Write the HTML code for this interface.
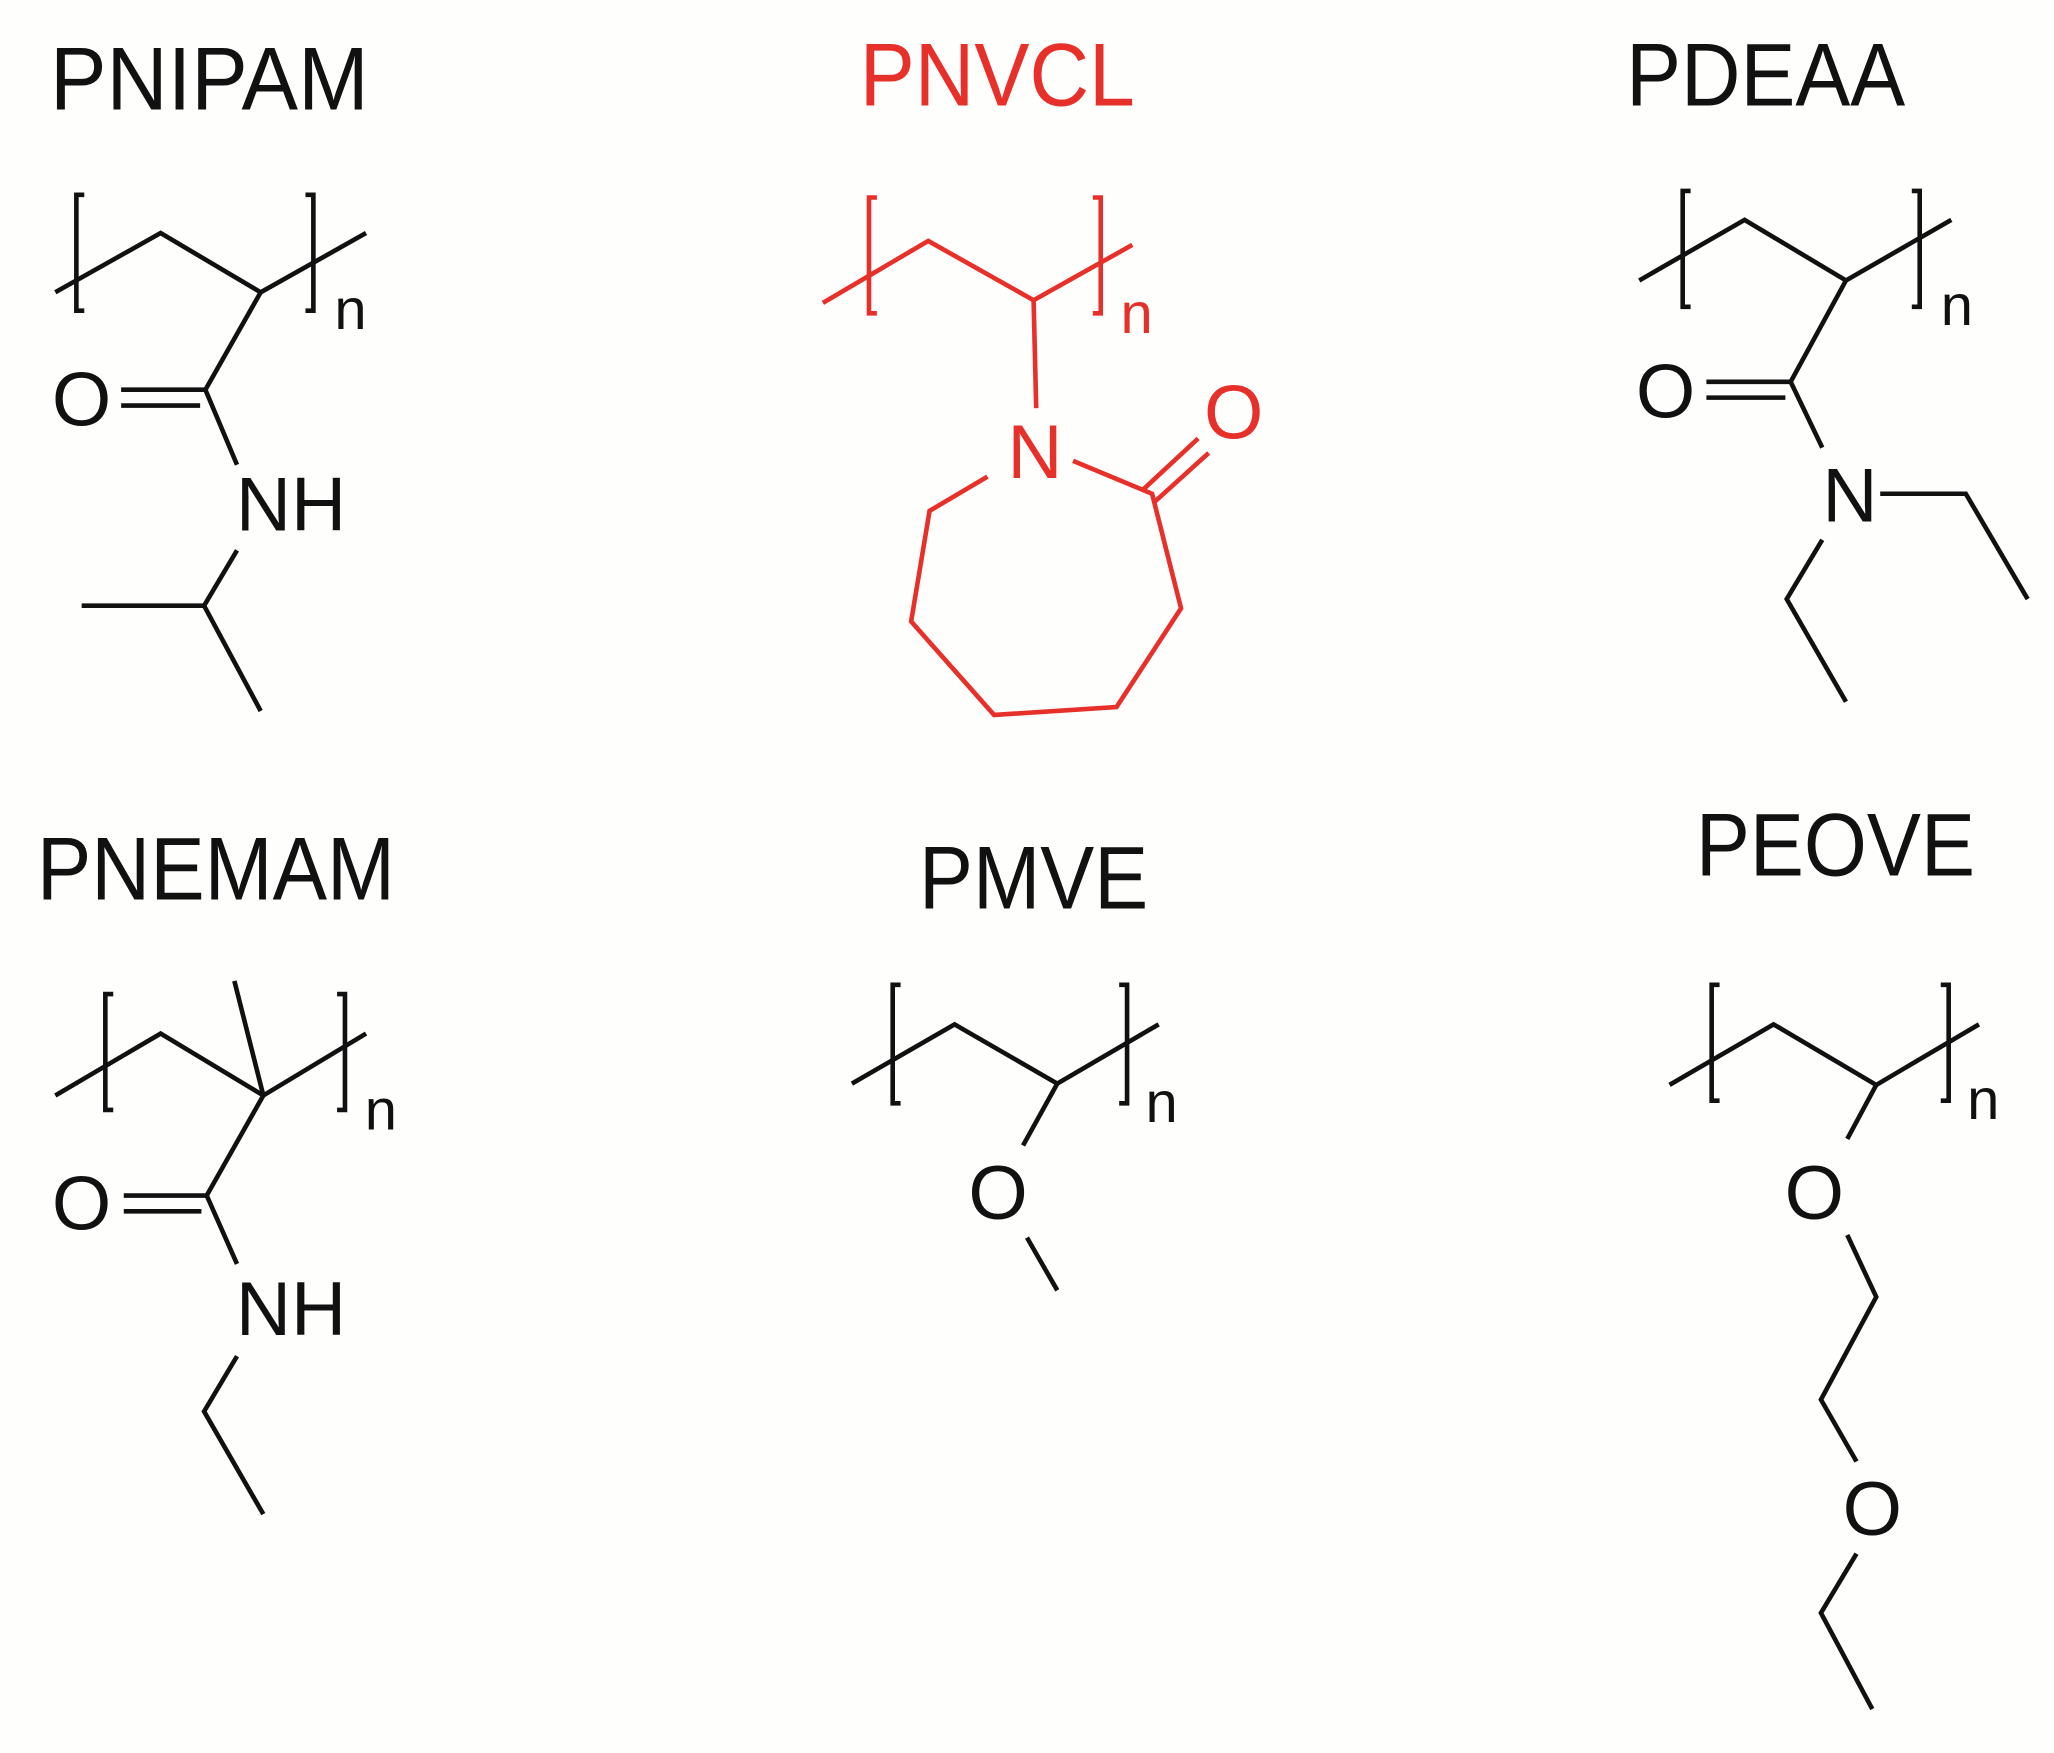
<!DOCTYPE html>
<html><head><meta charset="utf-8"><style>
html,body{margin:0;padding:0;background:#fefefd;}
svg{display:block}
text{font-family:"Liberation Sans",Arial,sans-serif;}
</style></head><body>
<svg width="2054" height="1753" viewBox="0 0 1560 1331.4" preserveAspectRatio="none" xmlns="http://www.w3.org/2000/svg">
<rect width="1560" height="1332" fill="#fefefd"/>
<g fill="none" stroke="#111" stroke-width="3.5" stroke-linejoin="miter">
<polyline points="42,222 122,177 198,222 278,177"/>
<polyline points="64,148 58,148 58,236 64,236"/>
<polyline points="232,148 238,148 238,236 232,236"/>
<polyline points="198,222 156,296 180,353"/>
<line x1="92" y1="296" x2="156" y2="296"/><line x1="92" y1="308" x2="152" y2="308"/>
<polyline points="180,418 155,460 198,540"/><line x1="62" y1="460" x2="155" y2="460"/>
<polyline points="1245,213 1325,167 1402,213 1482,167"/>
<polyline points="1284,145 1278,145 1278,233 1284,233"/>
<polyline points="1452,145 1458,145 1458,233 1452,233"/>
<polyline points="1402,213 1360,290 1384,340"/>
<line x1="1296" y1="290" x2="1360" y2="290"/><line x1="1296" y1="302" x2="1356" y2="302"/>
<polyline points="1428,375 1493,375 1540,455"/>
<polyline points="1384,410 1357,455 1402,533"/>
<polyline points="42,832 122,785 200,832 278,785"/>
<line x1="200" y1="832" x2="178" y2="745"/>
<polyline points="86,755 80,755 80,843 86,843"/>
<polyline points="256,755 262,755 262,843 256,843"/>
<polyline points="200,832 157,908 180,960"/>
<line x1="94" y1="908" x2="157" y2="908"/><line x1="94" y1="920" x2="153" y2="920"/>
<polyline points="180,1030 155,1072 200,1150"/>
<polyline points="647,823 725,778 803,823 880,778"/>
<polyline points="684,748 678,748 678,838 684,838"/>
<polyline points="850,748 856,748 856,838 850,838"/>
<line x1="803" y1="823" x2="777" y2="870"/>
<line x1="780" y1="940" x2="803" y2="980"/>
<polyline points="1268,824 1347,778 1425,824 1503,778"/>
<polyline points="1306,748 1300,748 1300,836 1306,836"/>
<polyline points="1474,748 1480,748 1480,836 1474,836"/>
<line x1="1425" y1="824" x2="1403" y2="865"/>
<polyline points="1403,938 1425,985 1383,1063 1410,1110"/>
<polyline points="1410,1180 1383,1225 1422,1298"/>
</g>
<g fill="none" stroke="#e8302a" stroke-width="3.5">
<polyline points="625,230 705,183 785,228 860,186"/>
<polyline points="666,150 660,150 660,238 666,238"/>
<polyline points="830,150 836,150 836,238 830,238"/>
<line x1="785" y1="228" x2="787" y2="310"/>
<polyline points="750,362 706,388 692,472 755,543 848,537 897,462 875,375 815,350"/>
<line x1="868" y1="372" x2="910" y2="333"/><line x1="876" y1="382" x2="918" y2="344"/>
</g>
<g fill="#111" font-size="68">
<text x="38" y="83" textLength="242" lengthAdjust="spacingAndGlyphs">PNIPAM</text>
<text x="1235" y="80" textLength="212" lengthAdjust="spacingAndGlyphs">PDEAA</text>
<text x="28" y="683" textLength="272" lengthAdjust="spacingAndGlyphs">PNEMAM</text>
<text x="698" y="690" textLength="174" lengthAdjust="spacingAndGlyphs">PMVE</text>
<text x="1288" y="665" textLength="212" lengthAdjust="spacingAndGlyphs">PEOVE</text>
</g>
<text x="653" y="80" font-size="68" fill="#e8302a" textLength="209" lengthAdjust="spacingAndGlyphs">PNVCL</text>
<g fill="#111" font-size="58" text-anchor="middle">
<text x="62" y="323">O</text>
<text x="221" y="403">NH</text>
<text x="1265" y="317">O</text>
<text x="1405" y="396">N</text>
<text x="62" y="934">O</text>
<text x="221" y="1014">NH</text>
<text x="758" y="926">O</text>
<text x="1378" y="926">O</text>
<text x="1422" y="1166">O</text>
</g>
<g fill="#e8302a" font-size="58" text-anchor="middle">
<text x="786" y="363">N</text>
<text x="937" y="333">O</text>
</g>
<g fill="#111" font-size="44">
<text x="254" y="250">n</text>
<text x="1474" y="247">n</text>
<text x="277" y="858">n</text>
<text x="870" y="852">n</text>
<text x="1494" y="850">n</text>
</g>
<text x="851" y="253" font-size="44" fill="#e8302a">n</text>
</svg>
</body></html>
